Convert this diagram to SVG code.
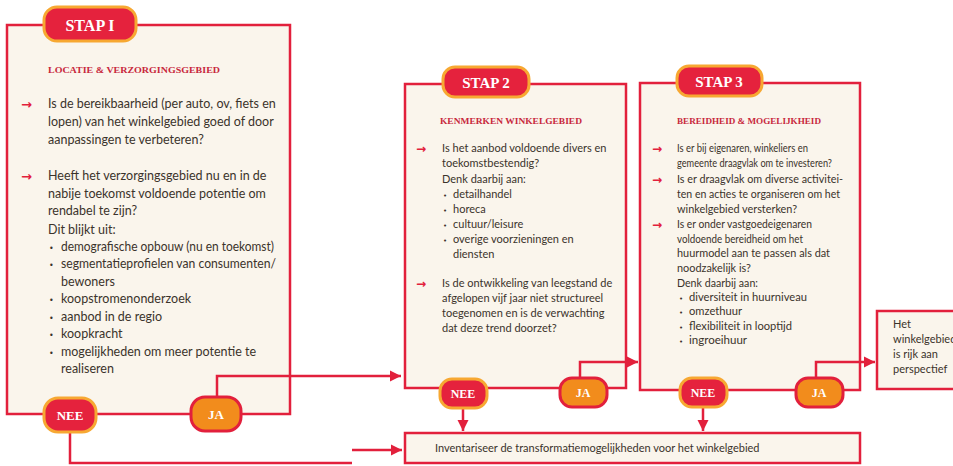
<svg xmlns="http://www.w3.org/2000/svg" width="953" height="466" viewBox="0 0 953 466">
<defs>
<style>
.box{fill:#faf5ec;stroke:#e2203c;stroke-width:2.5}
.tab{fill:#e5223d;stroke:#f7a832;stroke-width:3}
.nee{fill:#e5223d;stroke:#f7a832;stroke-width:3}
.ja{fill:#f28c1c;stroke:#e2203c;stroke-width:3}
.lbl{font-family:"Liberation Serif",serif;font-weight:bold;fill:#ffffff;text-anchor:middle}
.hd{font-family:"Liberation Serif",serif;font-weight:bold;fill:#c8283c;font-size:9px}
.t1{font-family:Lato,"Liberation Sans",sans-serif;font-size:12.5px;fill:#3b332b}
.t2{font-family:Lato,"Liberation Sans",sans-serif;font-size:11px;fill:#3b332b}
.t3{font-family:Lato,"Liberation Sans",sans-serif;font-size:11px;fill:#3b332b}
.ar{font-family:"DejaVu Sans",sans-serif;font-weight:bold;fill:#e2203c}
.bu{font-family:"DejaVu Sans",sans-serif;fill:#3b332b}
.con{fill:none;stroke:#e2203c;stroke-width:2.5}
</style>
<marker id="ahb" viewBox="0 0 10 10" refX="10" refY="5" markerWidth="4.5" markerHeight="4.5" orient="auto">
<path d="M0,0 L10,5 L0,10 z" fill="#e2203c"/>
</marker>
</defs>
<rect width="953" height="466" fill="#ffffff"/>

<g id="stap1">
<rect class="box" x="7" y="25" width="283" height="389"/>
<rect class="tab" x="44" y="7" width="92" height="34" rx="13"/>
<text class="lbl" x="90" y="31" font-size="16">STAP I</text>
<text class="hd" x="48" y="73" textLength="172" lengthAdjust="spacingAndGlyphs">LOCATIE &amp; VERZORGINGSGEBIED</text>
<text class="ar" x="21" y="109" font-size="13">→</text>
<text class="t1" x="48" y="108">Is de bereikbaarheid (per auto, ov, fiets en</text>
<text class="t1" x="48" y="126">lopen) van het winkelgebied goed of door</text>
<text class="t1" x="48" y="144">aanpassingen te verbeteren?</text>
<text class="ar" x="21" y="181" font-size="13">→</text>
<text class="t1" x="48" y="180">Heeft het verzorgingsgebied nu en in de</text>
<text class="t1" x="48" y="198">nabije toekomst voldoende potentie om</text>
<text class="t1" x="48" y="215">rendabel te zijn?</text>
<text class="t1" x="48" y="234">Dit blijkt uit:</text>
<text class="bu" x="49" y="251" font-size="8">•</text>
<text class="t1" x="61" y="251" textLength="213" lengthAdjust="spacingAndGlyphs">demografische opbouw (nu en toekomst)</text>
<text class="bu" x="49" y="268" font-size="8">•</text>
<text class="t1" x="61" y="268" textLength="215" lengthAdjust="spacingAndGlyphs">segmentatieprofielen van consumenten/</text>
<text class="t1" x="61" y="286">bewoners</text>
<text class="bu" x="49" y="303" font-size="8">•</text>
<text class="t1" x="61" y="303">koopstromenonderzoek</text>
<text class="bu" x="49" y="321" font-size="8">•</text>
<text class="t1" x="61" y="321">aanbod in de regio</text>
<text class="bu" x="49" y="338" font-size="8">•</text>
<text class="t1" x="61" y="338">koopkracht</text>
<text class="bu" x="49" y="356" font-size="8">•</text>
<text class="t1" x="61" y="356">mogelijkheden om meer potentie te</text>
<text class="t1" x="61" y="373">realiseren</text>
</g>

<g id="stap2">
<rect class="box" x="405" y="84" width="221" height="304"/>
<rect class="tab" x="443" y="67" width="86" height="30" rx="12"/>
<text class="lbl" x="486" y="88" font-size="15">STAP 2</text>
<text class="hd" x="440" y="124" textLength="142" lengthAdjust="spacingAndGlyphs">KENMERKEN WINKELGEBIED</text>
<text class="ar" x="416" y="153" font-size="12">→</text>
<text class="t2" x="442" y="152">Is het aanbod voldoende divers en</text>
<text class="t2" x="442" y="167">toekomstbestendig?</text>
<text class="t2" x="442" y="183">Denk daarbij aan:</text>
<text class="bu" x="443" y="198" font-size="7">•</text>
<text class="t2" x="453" y="198">detailhandel</text>
<text class="bu" x="443" y="213" font-size="7">•</text>
<text class="t2" x="453" y="213">horeca</text>
<text class="bu" x="443" y="228" font-size="7">•</text>
<text class="t2" x="453" y="228">cultuur/leisure</text>
<text class="bu" x="443" y="243" font-size="7">•</text>
<text class="t2" x="453" y="243">overige voorzieningen en</text>
<text class="t2" x="453" y="258">diensten</text>
<text class="ar" x="416" y="288" font-size="12">→</text>
<text class="t2" x="442" y="287">Is de ontwikkeling van leegstand de</text>
<text class="t2" x="442" y="302">afgelopen vijf jaar niet structureel</text>
<text class="t2" x="442" y="317">toegenomen en is de verwachting</text>
<text class="t2" x="442" y="332">dat deze trend doorzet?</text>
</g>

<g id="stap3">
<rect class="box" x="640" y="83" width="220" height="307"/>
<rect class="tab" x="677" y="66" width="85" height="30" rx="12"/>
<text class="lbl" x="719" y="87" font-size="15">STAP 3</text>
<text class="hd" x="677" y="124" textLength="144" lengthAdjust="spacingAndGlyphs">BEREIDHEID &amp; MOGELIJKHEID</text>
<text class="ar" x="652" y="153" font-size="12">→</text>
<text class="t3" x="677" y="152" textLength="131" lengthAdjust="spacingAndGlyphs">Is er bij eigenaren, winkeliers en</text>
<text class="t3" x="677" y="167" textLength="155" lengthAdjust="spacingAndGlyphs">gemeente draagvlak om te investeren?</text>
<text class="ar" x="652" y="184" font-size="12">→</text>
<text class="t3" x="677" y="183" textLength="166" lengthAdjust="spacingAndGlyphs">Is er draagvlak om diverse activitei-</text>
<text class="t3" x="677" y="198" textLength="163" lengthAdjust="spacingAndGlyphs">ten en acties te organiseren om het</text>
<text class="t3" x="677" y="213" textLength="120" lengthAdjust="spacingAndGlyphs">winkelgebied versterken?</text>
<text class="ar" x="652" y="229" font-size="12">→</text>
<text class="t3" x="677" y="228" textLength="135" lengthAdjust="spacingAndGlyphs">Is er onder vastgoedeigenaren</text>
<text class="t3" x="677" y="243" textLength="126" lengthAdjust="spacingAndGlyphs">voldoende bereidheid om het</text>
<text class="t3" x="677" y="257" textLength="153" lengthAdjust="spacingAndGlyphs">huurmodel aan te passen als dat</text>
<text class="t3" x="677" y="272" textLength="74" lengthAdjust="spacingAndGlyphs">noodzakelijk is?</text>
<text class="t3" x="677" y="287" textLength="81" lengthAdjust="spacingAndGlyphs">Denk daarbij aan:</text>
<text class="bu" x="679" y="301" font-size="7">•</text>
<text class="t3" x="689" y="301" textLength="118" lengthAdjust="spacingAndGlyphs">diversiteit in huurniveau</text>
<text class="bu" x="679" y="315" font-size="7">•</text>
<text class="t3" x="689" y="315" textLength="53" lengthAdjust="spacingAndGlyphs">omzethuur</text>
<text class="bu" x="679" y="330" font-size="7">•</text>
<text class="t3" x="689" y="330" textLength="103" lengthAdjust="spacingAndGlyphs">flexibiliteit in looptijd</text>
<text class="bu" x="679" y="344" font-size="7">•</text>
<text class="t3" x="689" y="344" textLength="58" lengthAdjust="spacingAndGlyphs">ingroeihuur</text>
</g>

<g id="inventariseer">
<rect class="box" x="405" y="433" width="455" height="30"/>
<text class="t2" x="435" y="452">Inventariseer de transformatiemogelijkheden voor het winkelgebied</text>
</g>

<g id="perspectief">
<rect class="box" x="877" y="311" width="90" height="78"/>
<text class="t2" x="893" y="328">Het</text>
<text class="t2" x="893" y="343">winkelgebied</text>
<text class="t2" x="893" y="358">is rijk aan</text>
<text class="t2" x="893" y="373">perspectief</text>
</g>

<g id="connectors">
<path class="con" d="M217,397 V376 H401" marker-end="url(#ahb)"/>
<path class="con" d="M70,432 V463 H352"/>
<path class="con" d="M352,450 H402" marker-end="url(#ahb)"/>
<path class="con" d="M580,378 V362 H638" marker-end="url(#ahb)"/>
<path class="con" d="M463,408 V431" marker-end="url(#ahb)"/>
<path class="con" d="M816,378 V362 H875" marker-end="url(#ahb)"/>
<path class="con" d="M703,407 V431" marker-end="url(#ahb)"/>
</g>

<g id="stap1-nee">
<rect class="nee" x="44" y="398" width="52" height="34" rx="14"/>
<text class="lbl" x="70" y="420" font-size="13">NEE</text>
</g>
<g id="stap1-ja">
<rect class="ja" x="191" y="397" width="50" height="34" rx="14"/>
<text class="lbl" x="216" y="419" font-size="13">JA</text>
</g>
<g id="stap2-nee">
<rect class="nee" x="440" y="379" width="47" height="29" rx="12"/>
<text class="lbl" x="463" y="398" font-size="12">NEE</text>
</g>
<g id="stap2-ja">
<rect class="ja" x="560" y="378" width="47" height="29" rx="12"/>
<text class="lbl" x="583" y="397" font-size="12">JA</text>
</g>
<g id="stap3-nee">
<rect class="nee" x="680" y="378" width="47" height="29" rx="12"/>
<text class="lbl" x="703" y="397" font-size="12">NEE</text>
</g>
<g id="stap3-ja">
<rect class="ja" x="796" y="378" width="47" height="29" rx="12"/>
<text class="lbl" x="819" y="397" font-size="12">JA</text>
</g>
</svg>
